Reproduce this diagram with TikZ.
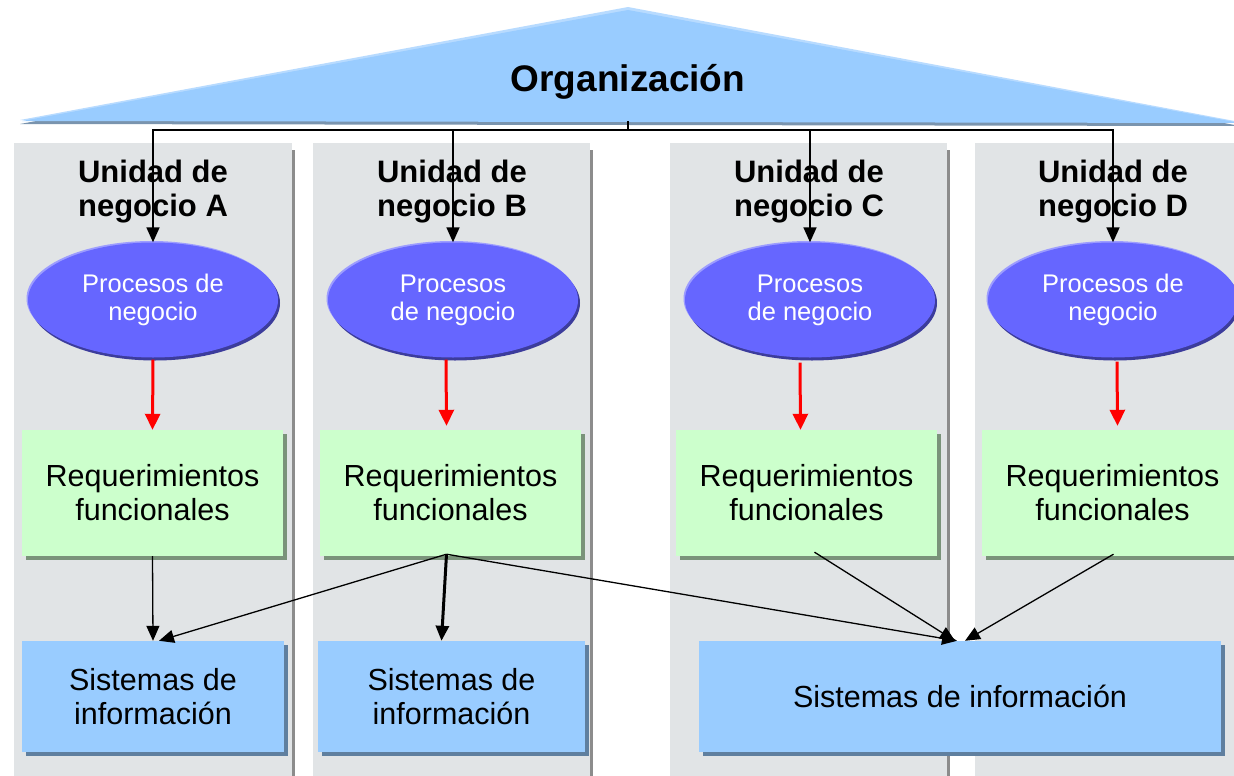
\documentclass[tikz,border=0pt]{standalone}
\usepackage{fontspec}
\setmainfont{Liberation Sans}
\usetikzlibrary{arrows.meta,shapes.geometric,shadows,calc}
\definecolor{panelfill}{HTML}{E1E4E6}
\definecolor{panelshadow}{HTML}{8C8C8C}
\definecolor{rooffill}{HTML}{99CCFF}
\definecolor{roofshadow}{HTML}{7A94AE}
\definecolor{procfill}{HTML}{6666FF}
\definecolor{procdark}{HTML}{3C3C9C}
\definecolor{proclight}{HTML}{9C9CFF}
\definecolor{reqfill}{HTML}{CCFFCC}
\definecolor{reqshadow}{HTML}{7A937A}
\definecolor{sisfill}{HTML}{99CCFF}
\definecolor{sisshadow}{HTML}{5F7F9F}
\definecolor{redarrow}{HTML}{FF0000}
\begin{document}
\begin{tikzpicture}[x=1pt,y=-1pt,
  panel/.style={fill=panelfill},
  unithead/.style={align=center,font=\fontsize{31}{34}\selectfont\bfseries},
  proc/.style={ellipse,fill=procfill,minimum width=250,minimum height=115,inner sep=0pt,
    text=white,align=center,font=\fontsize{25.5}{28}\selectfont,
    general shadow={fill=procdark,shadow xshift=2pt,shadow yshift=-3pt},
    general shadow={fill=proclight,shadow xshift=-1.5pt,shadow yshift=1.5pt}},
  req/.style={rectangle,fill=reqfill,minimum height=126,inner sep=0pt,align=center,
    font=\fontsize{30.5}{34}\selectfont,
    general shadow={fill=reqshadow,shadow xshift=4pt,shadow yshift=-4pt}},
  sis/.style={rectangle,fill=sisfill,minimum height=111,inner sep=0pt,align=center,
    font=\fontsize{30.5}{34}\selectfont,
    general shadow={fill=sisshadow,shadow xshift=4pt,shadow yshift=-4pt}},
  conn/.style={-{Triangle[length=15pt,width=13pt]},line width=1.6pt},
  redconn/.style={-{Triangle[length=16pt,width=15pt]},line width=3pt,draw=redarrow}
]
\useasboundingbox (0,0) rectangle (1234,776);
% background panels (columns)
\foreach \l/\r in {14/292,313/590,670/947,975/1250}{
  \fill[panelshadow] (\l+3,150) rectangle (\r+3,790);
  \fill[panel] (\l,143) rectangle (\r,790);
}
% roof
\fill[roofshadow] (20,124) -- (628,11) -- (1240,126) -- cycle;
\fill[rooffill!70!white] (20,120) -- (628,7) -- (1240,122) -- cycle;
\fill[rooffill] (22,121) -- (628,10) -- (1240,123) -- cycle;
\node[font=\fontsize{37}{40}\selectfont\bfseries] (org) at (628,82) {Organización};
\coordinate (orgbase) at (628,121);
% unit headers
\node[unithead] (hA) at (153,192) {Unidad de\\negocio A};
\node[unithead] (hB) at (452,192) {Unidad de\\negocio B};
\node[unithead] (hC) at (809,192) {Unidad de\\negocio C};
\node[unithead] (hD) at (1113,192) {Unidad de\\negocio D};
% processes
\node[proc] (pA) at (153,300) {Procesos de\\negocio};
\node[proc] (pB) at (453,300) {Procesos\\de negocio};
\node[proc] (pC) at (810,300) {Procesos\\de negocio};
\node[proc] (pD) at (1113,300) {Procesos de\\negocio};
% requirements
\node[req,minimum width=261] (rA) at (152.5,493) {Requerimientos\\funcionales};
\node[req,minimum width=261] (rB) at (450.5,493) {Requerimientos\\funcionales};
\node[req,minimum width=261] (rC) at (806.5,493) {Requerimientos\\funcionales};
\node[req,minimum width=261] (rD) at (1112.5,493) {Requerimientos\\funcionales};
% information systems
\node[sis,minimum width=262] (sA) at (153,696.5) {Sistemas de\\información};
\node[sis,minimum width=267] (sB) at (451.5,696.5) {Sistemas de\\información};
\node[sis,minimum width=522] (sC) at (960,696.5) {Sistemas de información};
% organisation connectors
\draw[conn] (orgbase) -- ++(0,9) -| (pA.north);
\draw[conn] (orgbase) -- ++(0,9) -| (pB.north);
\draw[conn] (orgbase) -- ++(0,9) -| (pC.north);
\draw[conn] (orgbase) -- ++(0,9) -| (pD.north);
% red arrows
\draw[redconn] ([yshift=-2pt]pA.south) -- (rA.north);
\draw[redconn] ([xshift=-7pt,yshift=-2pt]pB.south) -- ([xshift=-4pt,yshift=4pt]rB.north);
\draw[redconn] ([xshift=-10pt,yshift=-5pt]pC.south) -- ([xshift=-6pt]rC.north);
\draw[redconn] ([xshift=4pt,yshift=-4pt]pD.south) -- ([xshift=5pt,yshift=4pt]rD.north);
% requirement -> systems
\draw[conn,line width=1.3pt] (rA.south) -- (sA.north);
\coordinate (bB) at ([xshift=-4pt,yshift=2pt]rB.south);
\draw[conn,line width=1.3pt] (bB) -- ([xshift=6pt]sA.north);
\draw[conn,line width=3pt] (bB) -- ([xshift=-10pt]sB.north);
\draw[conn,line width=1.3pt] (bB) -- ([xshift=-3pt]sC.north);
\draw[conn,line width=1.3pt] ([xshift=8pt,yshift=4pt]rC.south) -- ([xshift=-5pt]sC.north);
\draw[conn,line width=1.3pt] ([xshift=1pt,yshift=2pt]rD.south) -- ([xshift=5pt]sC.north);
\end{tikzpicture}
\end{document}
